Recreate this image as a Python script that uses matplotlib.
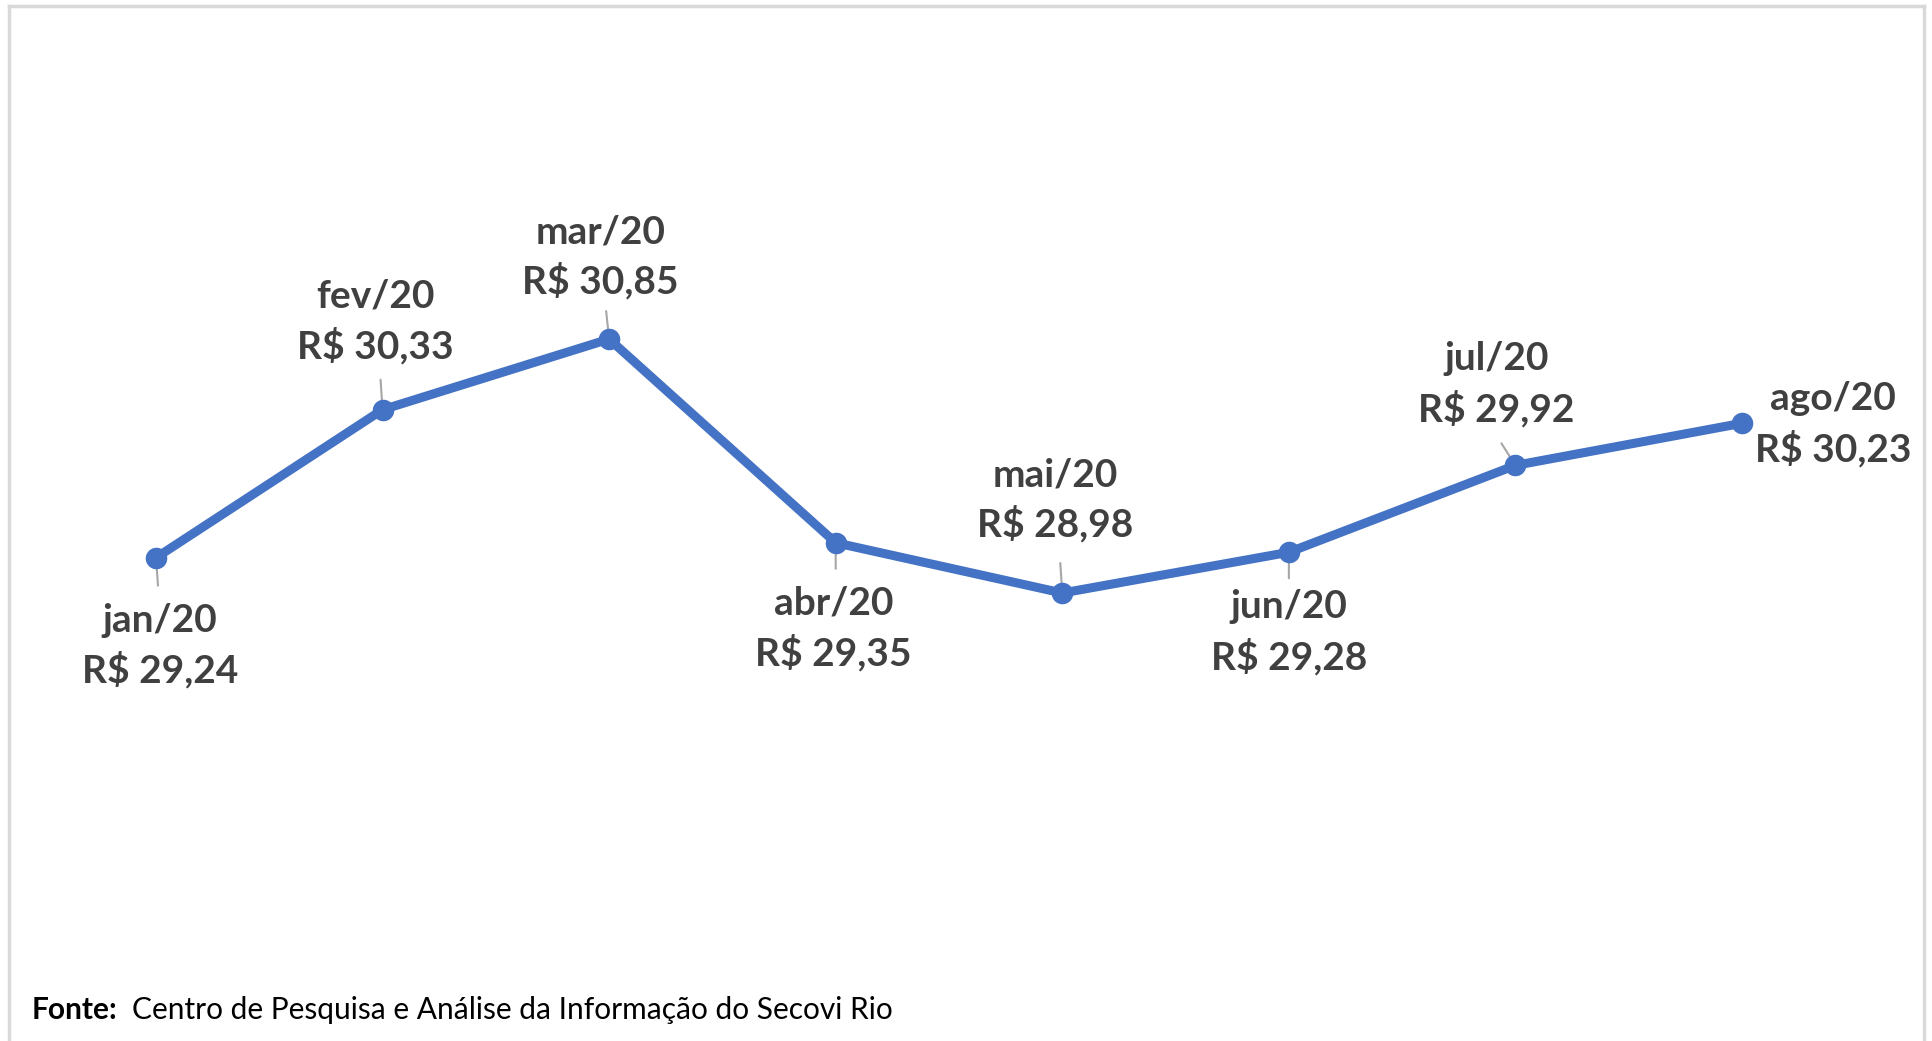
import matplotlib
matplotlib.use("Agg")
import matplotlib.pyplot as plt
from matplotlib.lines import Line2D

months = ["jan/20", "fev/20", "mar/20", "abr/20", "mai/20", "jun/20", "jul/20", "ago/20"]
values = [29.24, 30.33, 30.85, 29.35, 28.98, 29.28, 29.92, 30.23]
value_labels = ["R$ 29,24", "R$ 30,33", "R$ 30,85", "R$ 29,35", "R$ 28,98", "R$ 29,28", "R$ 29,92", "R$ 30,23"]
source_bold = "Fonte:"
source_text = "Centro de Pesquisa e Análise da Informação do Secovi Rio"

# label offsets in pixels (dx, dy; dy positive = downwards)
label_offsets = [(4, 88), (-7, -88), (-9, -82), (-2, 86), (-7, -93), (0, 80), (-19, -81), (91, 1)]
leader_ends = [(2, 28), (-2, -30), (-3, -28), (0, 26), (-2, -30), (0, 26), (-14, -22), None]

W, H = 1932, 1041
DPI = 100
PT = 72.0 / DPI

plt.rcParams['font.family'] = ['Lato', 'DejaVu Sans']
fig = plt.figure(figsize=(W / DPI, H / DPI), dpi=DPI)
ax = fig.add_axes([0, 0, 1, 1])
ax.set_xlim(-0.6885, 7.8386)
ax.set_ylim(25.681, 33.347)
ax.axis('off')

blue = "#4472C4"
txt = "#404040"
x = list(range(len(values)))
ax.plot(x, values, color=blue, lw=6.5, marker='o', ms=14.5, solid_capstyle='round',
        solid_joinstyle='round', zorder=3)

for i, (m, v, vl) in enumerate(zip(months, values, value_labels)):
    dx, dy = label_offsets[i]
    ax.annotate(m + "\n" + vl, xy=(i, v), xytext=(dx * PT, -dy * PT), textcoords='offset points',
                ha='center', va='center', fontsize=28, fontweight='bold', color=txt,
                linespacing=1.42, zorder=4)
    le = leader_ends[i]
    if le is not None:
        ax.annotate("", xy=(i, v), xytext=(le[0] * PT, -le[1] * PT), textcoords='offset points',
                    arrowprops=dict(arrowstyle='-', color='#a6a6a6', lw=1.5, shrinkA=0, shrinkB=0),
                    zorder=2)

# frame
fc = "#d9d9d9"
fig.add_artist(Line2D([9 / W, 9 / W], [0, 1 - 6 / H], color=fc, lw=2.5, transform=fig.transFigure))
fig.add_artist(Line2D([1924 / W, 1924 / W], [0, 1 - 6 / H], color=fc, lw=2.5, transform=fig.transFigure))
fig.add_artist(Line2D([9 / W, 1924 / W], [1 - 6 / H, 1 - 6 / H], color=fc, lw=2.5, transform=fig.transFigure))

fig.text(32 / W, 1 - 1010 / H, source_bold, ha='left', va='center', fontsize=21.5,
         fontweight='bold', color='black')
fig.text(132 / W, 1 - 1010 / H, source_text, ha='left', va='center', fontsize=21.5, color='black')

fig.savefig("out.png", dpi=DPI)
